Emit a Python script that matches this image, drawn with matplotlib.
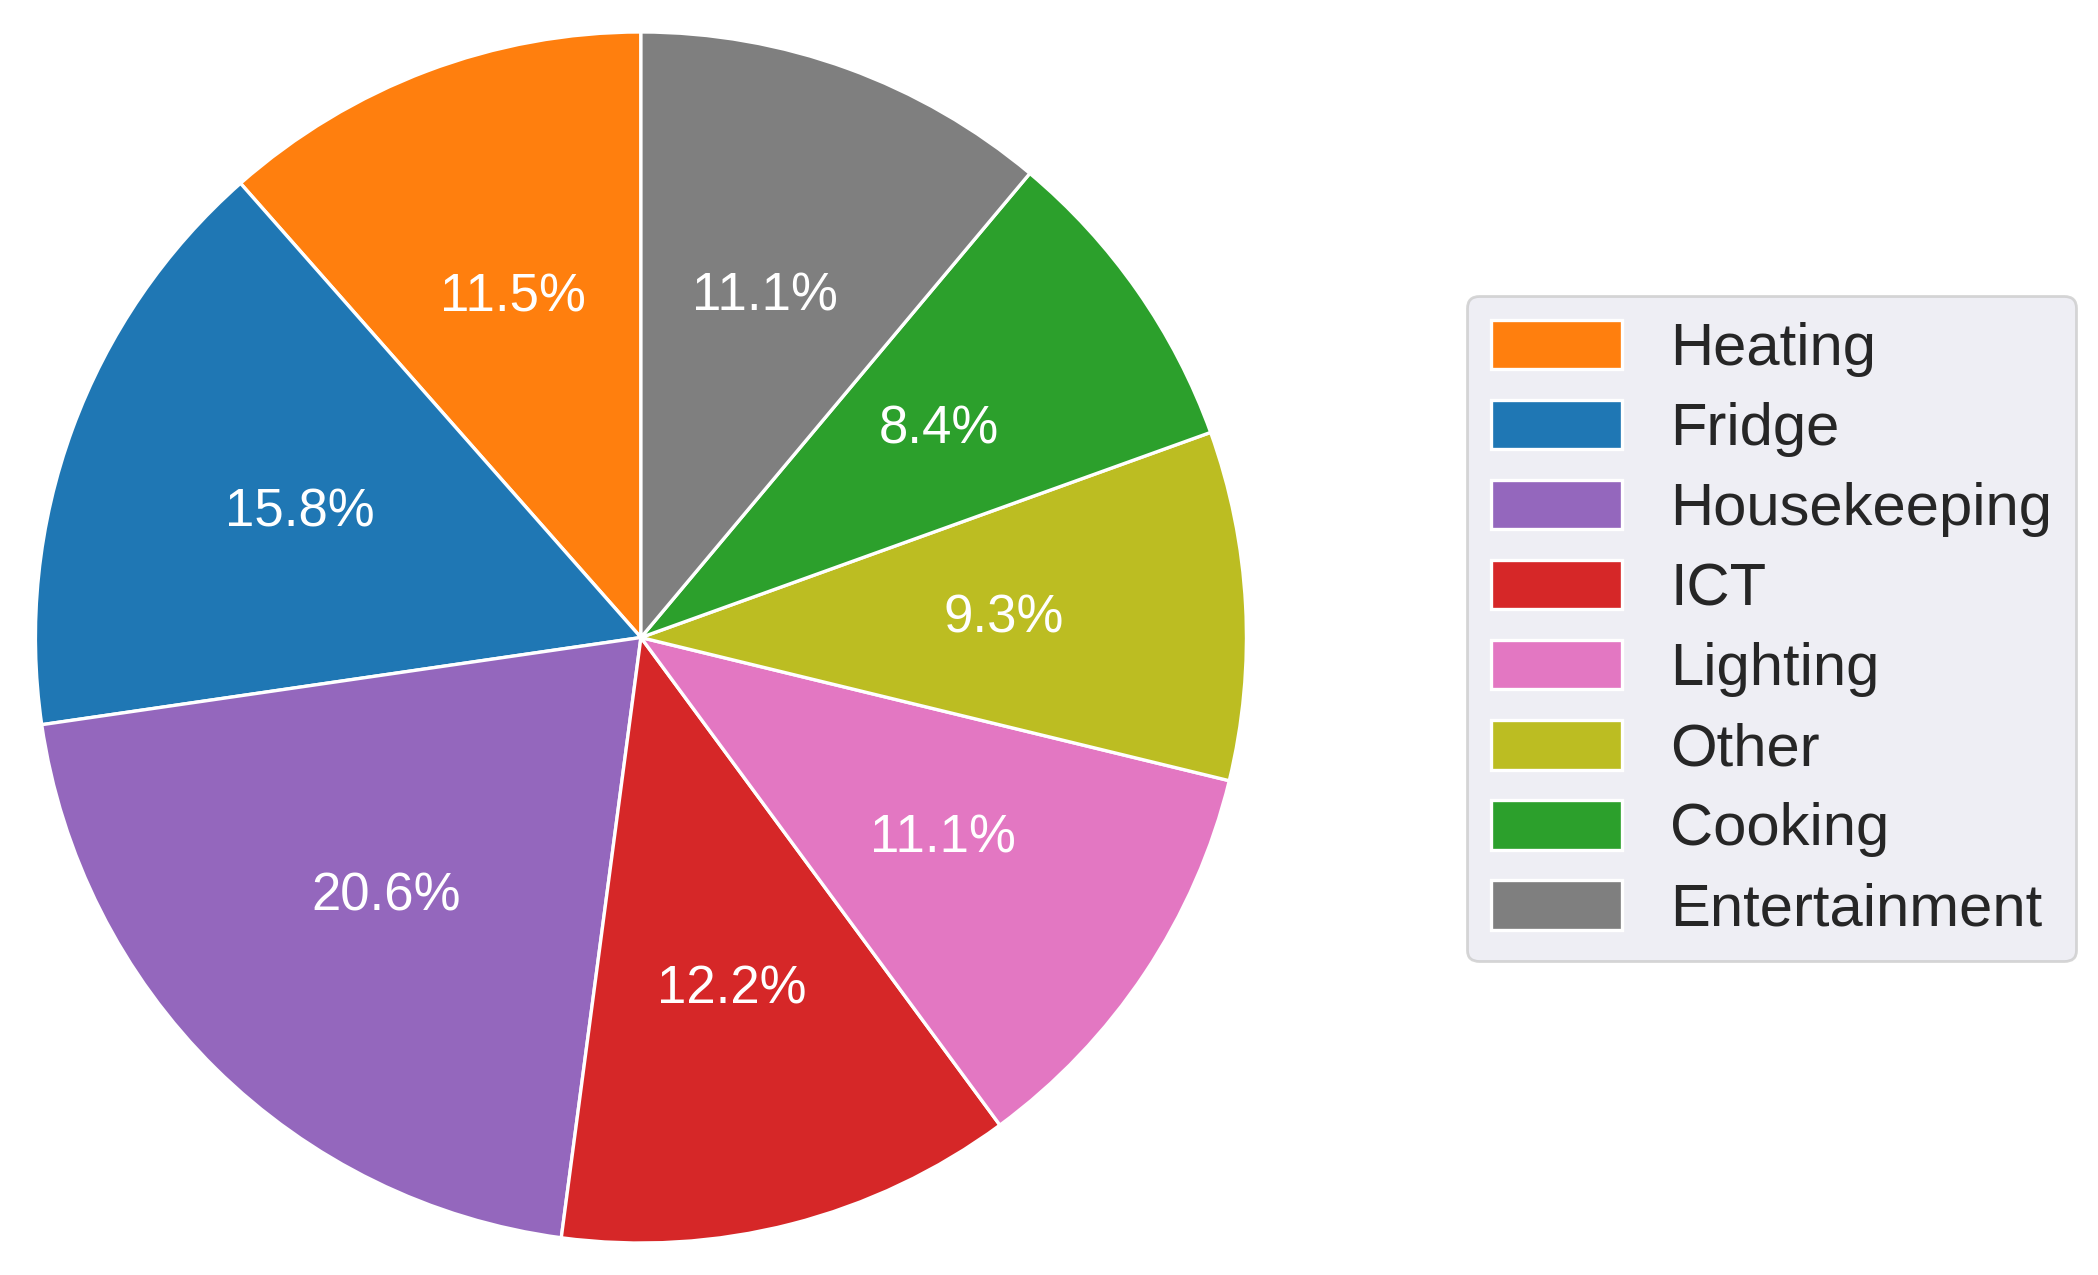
import matplotlib
matplotlib.use("Agg")
import matplotlib.pyplot as plt
import seaborn as sns

categories = ["Heating", "Fridge", "Housekeeping", "ICT", "Lighting", "Other", "Cooking", "Entertainment"]
values = [11.5, 15.8, 20.6, 12.2, 11.1, 9.3, 8.4, 11.1]
colors = ["#ff7f0e", "#1f77b4", "#9467bd", "#d62728", "#e377c2", "#bcbd22", "#2ca02c", "#7f7f7f"]

sns.set_theme(style="darkgrid")
plt.rcParams['font.family'] = ['Liberation Sans', 'DejaVu Sans']

fig = plt.figure(figsize=(10.49, 6.375), dpi=200)
ax = fig.add_axes([0.014, 0.02, 0.583, 0.96])
wedges, texts, autotexts = ax.pie(values, colors=colors, startangle=90, autopct="%1.1f%%",
                                  wedgeprops=dict(edgecolor="white", linewidth=1.2),
                                  textprops=dict(color="white", fontsize=19))
ax.set_xlim(-1.01, 1.01)
ax.set_ylim(-1.01, 1.01)
ax.set_aspect("equal")
leg = fig.legend(wedges, categories, loc="center left", bbox_to_anchor=(0.685, 0.507),
                 fontsize=21.5, frameon=True, handlelength=2.2, handleheight=0.9, labelspacing=0.38)
leg.get_frame().set_edgecolor("#cccccc")
fig.savefig("out.png", dpi=200)
